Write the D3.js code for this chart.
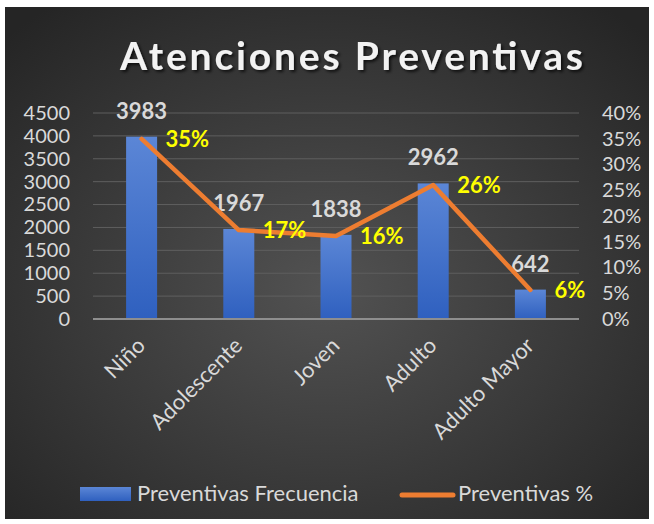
<!DOCTYPE html>
<html>
<head>
<meta charset="utf-8">
<script src="https://cdn.jsdelivr.net/npm/d3@7"></script>
<style>
  body { margin: 0; background: #fff; }
  svg text { font-family: Lato, "Open Sans", sans-serif; }
</style>
</head>
<body>
<svg id="chart" width="654" height="524"></svg>
<script>
// data
let categories = ["Niño", "Adolescente", "Joven", "Adulto", "Adulto Mayor"];
let frecuencia = [3983, 1967, 1838, 2962, 642];
let porcentaje = [0.3496, 0.1727, 0.1613, 0.2600, 0.0564];
let pctLabels = ["35%", "17%", "16%", "26%", "6%"];
let leftTicks = [0, 500, 1000, 1500, 2000, 2500, 3000, 3500, 4000, 4500];
let rightTicks = [0, 0.05, 0.10, 0.15, 0.20, 0.25, 0.30, 0.35, 0.40];
let legendLabels = ["Preventivas Frecuencia", "Preventivas %"];

let svg = d3.select("#chart");
let defs = svg.append("defs");

let bg = defs.append("radialGradient").attr("id", "bg")
    .attr("cx", "50%").attr("cy", "55%").attr("r", "70%");
bg.append("stop").attr("offset", "0%").attr("stop-color", "#525252");
bg.append("stop").attr("offset", "100%").attr("stop-color", "#252525");

let barGrad = defs.append("linearGradient").attr("id", "barGrad")
    .attr("x1", 0).attr("y1", 0).attr("x2", 0).attr("y2", 1);
barGrad.append("stop").attr("offset", "0%").attr("stop-color", "#5b86d6");
barGrad.append("stop").attr("offset", "100%").attr("stop-color", "#2f60bf");

let shadow = defs.append("filter").attr("id", "shadow")
    .attr("x", "-10%").attr("y", "-20%").attr("width", "130%").attr("height", "150%");
shadow.append("feDropShadow").attr("dx", 2).attr("dy", 2)
    .attr("stdDeviation", 1.5).attr("flood-color", "#000").attr("flood-opacity", 0.7);

svg.append("rect").attr("x", 5).attr("y", 7).attr("width", 644).attr("height", 512)
    .attr("fill", "url(#bg)");

// title
svg.append("text")
    .attr("x", 120).attr("y", 70)
    .attr("textLength", 463).attr("lengthAdjust", "spacing")
    .style("font-size", "39px").style("font-weight", "bold")
    .attr("fill", "#f2f2f2")
    .attr("filter", "url(#shadow)")
    .text("Atenciones Preventivas");

// scales
let xdim = d3.scaleBand().domain(categories).range([93, 579]).padding(0);
let ydim = d3.scaleLinear().domain([0, 4500]).range([319, 113]);
let ypct = d3.scaleLinear().domain([0, 0.4]).range([319, 113]);

// gridlines
svg.append("g").selectAll("line").data(leftTicks.slice(1)).enter().append("line")
    .attr("x1", 93).attr("x2", 579)
    .attr("y1", d => ydim(d)).attr("y2", d => ydim(d))
    .attr("stroke", "#5f5f5f").attr("stroke-width", 1);

// left axis
let leftAxis = svg.append("g").attr("transform", "translate(70,0)")
    .call(d3.axisLeft(ydim).tickValues(leftTicks).tickSize(0).tickPadding(0).tickFormat(d3.format("d")));
leftAxis.select(".domain").remove();
leftAxis.selectAll("text").attr("fill", "#d9d9d9").style("font-size", "20px")
    .attr("font-family", null);

// right axis
let rightAxis = svg.append("g").attr("transform", "translate(602,0)")
    .call(d3.axisRight(ypct).tickValues(rightTicks).tickSize(0).tickPadding(0).tickFormat(d3.format(".0%")));
rightAxis.select(".domain").remove();
rightAxis.selectAll("text").attr("fill", "#d9d9d9").style("font-size", "20px")
    .attr("font-family", null);

// bars
let bw = 31;
svg.append("g").selectAll("rect").data(frecuencia).enter().append("rect")
    .attr("x", (d, i) => xdim(categories[i]) + xdim.bandwidth() / 2 - bw / 2)
    .attr("width", bw)
    .attr("y", d => ydim(d))
    .attr("height", d => ydim(0) - ydim(d))
    .attr("fill", "url(#barGrad)");

// baseline
svg.append("line").attr("x1", 93).attr("x2", 579)
    .attr("y1", ydim(0)).attr("y2", ydim(0))
    .attr("stroke", "#8e8e8e").attr("stroke-width", 2);

// bar labels
svg.append("g").selectAll("text").data(frecuencia).enter().append("text")
    .attr("x", (d, i) => xdim(categories[i]) + xdim.bandwidth() / 2)
    .attr("y", d => ydim(d) - 18)
    .attr("text-anchor", "middle")
    .style("font-size", "22px").style("font-weight", "bold")
    .attr("fill", "#d9d9d9")
    .text(d => d);

// line
let line = d3.line()
    .x((d, i) => xdim(categories[i]) + xdim.bandwidth() / 2)
    .y(d => ypct(d));
svg.append("path").datum(porcentaje)
    .attr("d", line)
    .attr("fill", "none")
    .attr("stroke", "#ed7d31").attr("stroke-width", 4.5)
    .attr("stroke-linejoin", "round").attr("stroke-linecap", "round");

// percentage labels
svg.append("g").selectAll("text").data(porcentaje).enter().append("text")
    .attr("x", (d, i) => xdim(categories[i]) + xdim.bandwidth() / 2 + 24)
    .attr("y", d => ypct(d) + 2)
    .attr("dominant-baseline", "middle")
    .style("font-size", "22px").style("font-weight", "bold")
    .attr("fill", "#ffff00")
    .text((d, i) => pctLabels[i]);

// category labels
svg.append("g").selectAll("text").data(categories).enter().append("text")
    .attr("transform", d => "translate(" + (xdim(d) + xdim.bandwidth() / 2 + 5) + ",347) rotate(-45)")
    .attr("text-anchor", "end")
    .style("font-size", "22px")
    .attr("fill", "#d9d9d9")
    .text(d => d);

// legend
svg.append("rect").attr("x", 80).attr("y", 487).attr("width", 51).attr("height", 14)
    .attr("fill", "url(#barGrad)");
svg.append("text").attr("x", 137).attr("y", 495)
    .attr("dominant-baseline", "middle")
    .style("font-size", "22px").attr("fill", "#d9d9d9")
    .text(legendLabels[0]);
svg.append("line").attr("x1", 402).attr("x2", 453).attr("y1", 495).attr("y2", 495)
    .attr("stroke", "#ed7d31").attr("stroke-width", 5).attr("stroke-linecap", "round");
svg.append("text").attr("x", 458).attr("y", 495)
    .attr("dominant-baseline", "middle")
    .style("font-size", "22px").attr("fill", "#d9d9d9")
    .text(legendLabels[1]);
</script>
</body>
</html>
